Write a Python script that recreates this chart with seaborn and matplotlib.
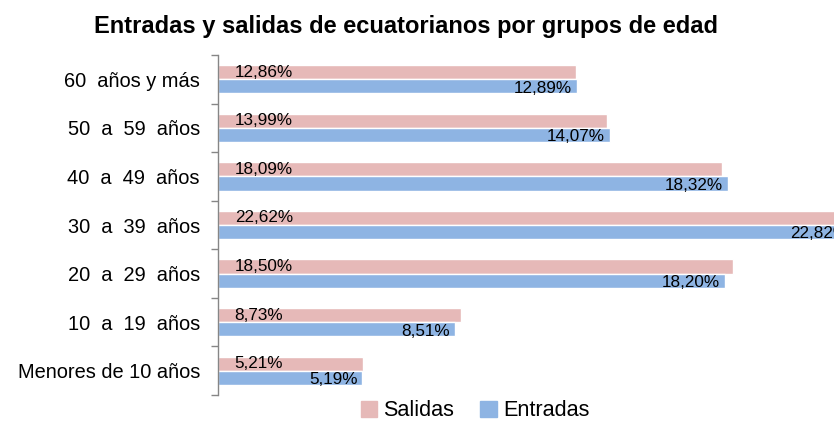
import numpy as np
import pandas as pd
import matplotlib
matplotlib.use("Agg")
import matplotlib.pyplot as plt
import seaborn as sns

# Datos
grupos = ["60  años y más", "50  a  59  años", "40  a  49  años", "30  a  39  años",
          "20  a  29  años", "10  a  19  años", "Menores de 10 años"]
salidas = [12.86, 13.99, 18.09, 22.62, 18.50, 8.73, 5.21]
entradas = [12.89, 14.07, 18.32, 22.82, 18.20, 8.51, 5.19]
series = ["Salidas", "Entradas"]
colores = ["#E6B9B8", "#8EB4E3"]

df = pd.DataFrame({
    "grupo": grupos * 2,
    "serie": ["Salidas"] * len(grupos) + ["Entradas"] * len(grupos),
    "valor": salidas + entradas,
})

sns.set_style("white")
plt.rcParams["font.family"] = ["Liberation Sans", "DejaVu Sans"]
plt.rcParams["text.color"] = "black"
plt.rcParams["ytick.labelcolor"] = "black"

fig = plt.figure(figsize=(8.34, 4.26), dpi=100)
ax = fig.add_axes([218 / 834, 1 - 395 / 426, 696 / 834, 340 / 426])

sns.barplot(data=df, y="grupo", x="valor", hue="serie", hue_order=series,
            palette=colores, order=grupos, orient="h", width=0.58, gap=0,
            saturation=1, ax=ax, legend=True)

ax.set_xlim(0, 25)
ax.set_ylim(len(grupos) - 0.5, -0.5)

# etiquetas de datos
def fmt(v):
    return f"{v:.2f}%".replace(".", ",")

for bar, v in zip(ax.containers[0], salidas):
    ax.text(bar.get_x() + 0.6, bar.get_y() + bar.get_height() / 2, fmt(v),
            ha="left", va="center", fontsize=12.3, color="black", clip_on=False)
for bar, v in zip(ax.containers[1], entradas):
    ax.text(bar.get_width() - 0.18, bar.get_y() + bar.get_height() / 2 + 0.04, fmt(v),
            ha="right", va="center", fontsize=12.3, color="black", clip_on=False)

# ejes
for s in ["top", "right", "bottom"]:
    ax.spines[s].set_visible(False)
ax.spines["left"].set_color("#868686")
ax.spines["left"].set_linewidth(1)
ax.set_xticks([])
ax.set_yticks(np.arange(-0.5, len(grupos), 1))
ax.set_yticklabels([])
ax.tick_params(axis="y", which="major", length=5, color="#868686", width=1, left=True)
ax.set_yticks(np.arange(len(grupos)), minor=True)
ax.set_yticklabels(grupos, minor=True, fontsize=14.4)
ax.tick_params(axis="y", which="minor", length=0, pad=13)
ax.set_xlabel("")
ax.set_ylabel("")

fig.suptitle("Entradas y salidas de ecuatorianos por grupos de edad",
             fontsize=17, fontweight="bold", x=406 / 834, y=1 - 27 / 426, va="center")

ax.legend_.remove()
handles = [plt.Rectangle((0, 0), 1, 1, color=c) for c in colores]
fig.legend(handles, series, loc="center", bbox_to_anchor=(475 / 834, 1 - 411 / 426),
           ncol=2, frameon=False, fontsize=15.6, handlelength=0.75, handleheight=0.75,
           handletextpad=0.3, columnspacing=1.2, borderaxespad=0)

fig.savefig("out.png", dpi=100)
